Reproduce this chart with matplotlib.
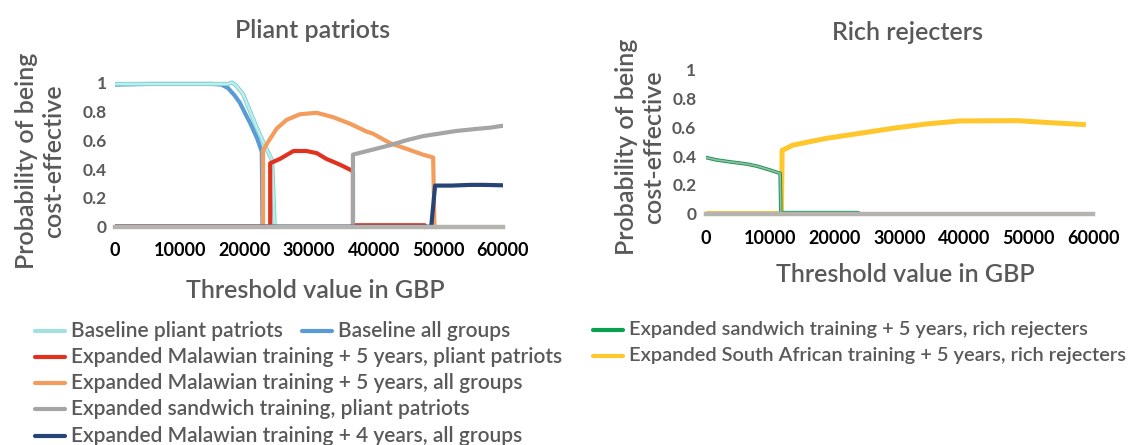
import matplotlib
matplotlib.use('Agg')
import matplotlib.pyplot as plt
from matplotlib.lines import Line2D
import matplotlib.patheffects as pe

# ---------------- data ----------------
x_ticks = [0, 10000, 20000, 30000, 40000, 50000, 60000]
y_ticks = [0, 0.2, 0.4, 0.6, 0.8, 1]
y_tick_labels = ["0", "0.2", "0.4", "0.6", "0.8", "1"]

# Pliant patriots panel
base_pp_x = [0, 5000, 10000, 15000, 17500, 18100, 18700, 19800, 20800, 21900, 23100, 24300, 24700]
base_pp_y = [0.99, 0.99, 0.99, 0.99, 0.99, 1.0, 0.98, 0.92, 0.81, 0.69, 0.57, 0.46, 0.0]

base_all_x = [0, 5000, 10000, 15000, 16500, 17500, 18500, 19300, 20200, 21000, 22000, 22700, 22800]
base_all_y = [0.985, 0.99, 0.99, 0.99, 0.985, 0.96, 0.91, 0.86, 0.78, 0.71, 0.61, 0.52, 0.0]

mal5_pp_x = [0, 24000, 24000, 25500, 27600, 29600, 31200, 32700, 34800, 36600, 36800, 36800, 47900, 48000]
mal5_pp_y = [0, 0, 0.44, 0.47, 0.525, 0.525, 0.51, 0.47, 0.43, 0.39, 0.38, 0.01, 0.01, 0.0]

mal5_all_x = [0, 22900, 22900, 23700, 25000, 26500, 28600, 31200, 33700, 36300, 38900, 39900, 42500, 45100, 47600, 49200, 49400]
mal5_all_y = [0, 0, 0.53, 0.59, 0.68, 0.74, 0.78, 0.79, 0.76, 0.715, 0.66, 0.645, 0.58, 0.54, 0.50, 0.48, 0.0]

sand_pp_x = [0, 36800, 36800, 39900, 42500, 45100, 47600, 50200, 52800, 55400, 58000, 60000]
sand_pp_y = [0, 0, 0.50, 0.535, 0.565, 0.60, 0.628, 0.646, 0.664, 0.676, 0.687, 0.70]

mal4_all_x = [0, 48900, 49500, 52000, 55000, 57000, 60000]
mal4_all_y = [0, 0, 0.285, 0.285, 0.29, 0.29, 0.287]

# Rich rejecters panel
sand5_rr_x = [0, 1650, 3700, 6300, 7900, 9400, 11500, 11600, 23600, 23700]
sand5_rr_y = [0.39, 0.373, 0.36, 0.345, 0.33, 0.31, 0.28, 0.006, 0.006, 0.0]

sa5_rr_x = [0, 11700, 11800, 13500, 18700, 23900, 29000, 34200, 39400, 48200, 53300, 58500]
sa5_rr_y = [0.0, 0.0, 0.44, 0.477, 0.524, 0.559, 0.594, 0.624, 0.645, 0.647, 0.633, 0.62]

# ---------------- style ----------------
W, H = 1146, 445
plt.rcParams['font.family'] = ['Lato', 'DejaVu Sans']
TXT = '#595959'
C_CYAN = '#A3E0E1'
C_BLUE = '#5B9BD5'
C_RED = '#E2321F'
C_ORANGE = '#F39C5E'
C_GRAY = '#A5A5A5'
C_NAVY = '#264478'
C_GREEN = '#0BA04F'
C_YELLOW = '#FFC72C'
C_AXIS = '#B5B3B0'
WT = 'semibold'

fig = plt.figure(figsize=(W / 100, H / 100), dpi=100)


def fx(px):
    return px / W


def fy(py):
    return 1 - py / H


def style_axes(ax, xpad, ypad):
    ax.set_xlim(0, 60000)
    ax.set_ylim(-0.05, 1.05)
    for s in ['top', 'right', 'left']:
        ax.spines[s].set_visible(False)
    ax.spines['bottom'].set_position(('data', 0))
    ax.spines['bottom'].set_color(C_AXIS)
    ax.spines['bottom'].set_linewidth(3.2)
    ax.spines['bottom'].set_zorder(10)
    ax.set_xticks(x_ticks)
    ax.set_xticklabels([str(v) for v in x_ticks])
    ax.set_yticks(y_ticks)
    ax.set_yticklabels(y_tick_labels)
    ax.tick_params(axis='both', length=0)
    ax.tick_params(axis='x', pad=xpad, labelsize=13, labelcolor='black')
    ax.tick_params(axis='y', pad=ypad, labelsize=12.5, labelcolor=TXT)
    for lab in ax.get_xticklabels() + ax.get_yticklabels():
        lab.set_fontweight('bold')
    ax.patch.set_alpha(0)


axL = fig.add_axes([fx(115), fy(233.9), fx(388), 158.6 / H])
axR = fig.add_axes([fx(706), fy(220.7), fx(387), 157.9 / H])
style_axes(axL, 11, 6)
style_axes(axR, 12, 7)

LW = 3.0
axL.plot(base_pp_x, base_pp_y, color=C_CYAN, lw=LW, zorder=3,
         path_effects=[pe.Stroke(linewidth=LW, foreground='#7CCDCF'),
                       pe.Stroke(linewidth=LW - 1.2, foreground='#BDEDED')])
axL.plot(base_all_x, base_all_y, color=C_BLUE, lw=LW, zorder=2)
axL.plot(mal5_pp_x, mal5_pp_y, color=C_RED, lw=LW, zorder=4)
axL.plot(mal5_all_x, mal5_all_y, color=C_ORANGE, lw=LW, zorder=3)
axL.plot(sand_pp_x, sand_pp_y, color=C_GRAY, lw=LW, zorder=5)
axL.plot(mal4_all_x, mal4_all_y, color=C_NAVY, lw=LW, zorder=6)

axR.plot(sand5_rr_x, sand5_rr_y, color=C_GREEN, lw=2.6, zorder=4,
         path_effects=[pe.Stroke(linewidth=2.6, foreground=C_GREEN),
                       pe.Stroke(linewidth=1.2, foreground='#A9B4AE')])
axR.plot(sa5_rr_x, sa5_rr_y, color=C_YELLOW, lw=3.6, zorder=3)

# titles
fig.text(fx(313), fy(30), 'Pliant patriots', ha='center', va='center', fontsize=18,
         color=TXT, fontweight=WT)
fig.text(fx(908), fy(33), 'Rich rejecters', ha='center', va='center', fontsize=18,
         color=TXT, fontweight=WT)

# axis labels
ylab = 'Probability of being\ncost-effective'
fig.text(fx(40), fy(161), ylab, rotation=90, ha='center', va='center', fontsize=18,
         color=TXT, multialignment='center', linespacing=1.25, fontweight=WT)
fig.text(fx(640), fy(147), ylab, rotation=90, ha='center', va='center', fontsize=18,
         color=TXT, multialignment='center', linespacing=1.25, fontweight=WT)
fig.text(fx(315), fy(290), 'Threshold value in GBP', ha='center', va='center', fontsize=18,
         color=TXT, fontweight=WT)
fig.text(fx(905), fy(275), 'Threshold value in GBP', ha='center', va='center', fontsize=18,
         color=TXT, fontweight=WT)

# legends (drawn manually to reproduce the layout)
left_entries = [
    (35, 331, C_CYAN, 'Baseline pliant patriots'),
    (302, 331, C_BLUE, 'Baseline all groups'),
    (35, 357, C_RED, 'Expanded Malawian training + 5 years, pliant patriots'),
    (35, 383, C_ORANGE, 'Expanded Malawian training + 5 years, all groups'),
    (35, 409, C_GRAY, 'Expanded sandwich training, pliant patriots'),
    (35, 436, C_NAVY, 'Expanded Malawian training + 4 years, all groups'),
]
right_entries = [
    (593, 330, C_GREEN, 'Expanded sandwich training + 5 years, rich rejecters'),
    (593, 356, C_YELLOW, 'Expanded South African training + 5 years, rich rejecters'),
]
for entries, fs in [(left_entries, 15), (right_entries, 14.4)]:
    for (px, py, col, lab) in entries:
        fig.add_artist(Line2D([fx(px), fx(px + 30)], [fy(py), fy(py)], color=col, lw=3,
                              solid_capstyle='round', transform=fig.transFigure))
        fig.text(fx(px + 36), fy(py), lab, ha='left', va='center', fontsize=fs, color=TXT,
                 fontweight=WT)

fig.savefig('out.png', dpi=100)
